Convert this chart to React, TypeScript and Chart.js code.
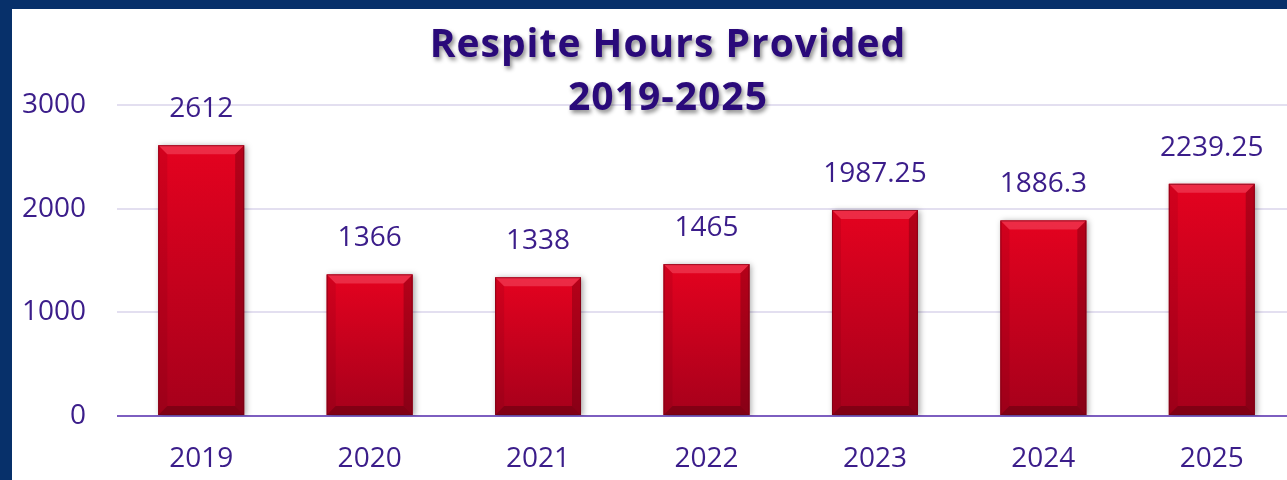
import React, { useEffect, useRef } from 'react';
import { Chart, registerables } from 'chart.js';

Chart.register(...registerables);

const categories = ['2019', '2020', '2021', '2022', '2023', '2024', '2025'];
const hours = [2612, 1366, 1338, 1465, 1987.25, 1886.3, 2239.25];
const valueLabels = ['2612', '1366', '1338', '1465', '1987.25', '1886.3', '2239.25'];
const yTickValues = [0, 1000, 2000, 3000];
const titleLines = ['Respite Hours Provided', '2019-2025'];

const TEXT = '#3b1d8a';
const TITLE = '#2a0a7a';
const FONT = '"Open Sans", "Noto Sans", sans-serif';

const barStyle = {
  id: 'barStyle',
  beforeDatasetsDraw(chart: any) {
    const ctx = chart.ctx;
    ctx.save();
    ctx.shadowColor = 'rgba(0,0,0,0.35)';
    ctx.shadowBlur = 6;
    ctx.shadowOffsetX = 2;
    ctx.shadowOffsetY = 1;
  },
  afterDatasetsDraw(chart: any) {
    const ctx = chart.ctx;
    ctx.restore();
    const meta = chart.getDatasetMeta(0);
    const b = 9;
    meta.data.forEach((el: any) => {
      const { x, y, base, width } = el.getProps(['x', 'y', 'base', 'width'], true);
      const L = x - width / 2, R = x + width / 2, T = y, B = base;
      const g = ctx.createLinearGradient(0, T, 0, B);
      g.addColorStop(0, '#e4021f');
      g.addColorStop(1, '#a6001b');
      ctx.save();
      ctx.fillStyle = g;
      ctx.fillRect(L, T, width, B - T);
      const poly = (pts: number[][], fill: string) => {
        ctx.beginPath();
        ctx.moveTo(pts[0][0], pts[0][1]);
        for (let i = 1; i < pts.length; i++) ctx.lineTo(pts[i][0], pts[i][1]);
        ctx.closePath();
        ctx.fillStyle = fill;
        ctx.fill();
      };
      poly([[L, T], [R, T], [R - b, T + b], [L + b, T + b]], 'rgba(255,120,140,0.35)');
      poly([[L, B], [R, B], [R - b, B - b], [L + b, B - b]], 'rgba(60,0,10,0.35)');
      poly([[L, T], [L + b, T + b], [L + b, B - b], [L, B]], 'rgba(90,0,15,0.12)');
      poly([[R, T], [R - b, T + b], [R - b, B - b], [R, B]], 'rgba(60,0,10,0.28)');
      ctx.strokeStyle = 'rgba(110,0,20,0.6)';
      ctx.lineWidth = 1;
      ctx.strokeRect(L + 0.5, T + 0.5, width - 1, B - T - 1);
      ctx.restore();
    });
    // value labels
    ctx.save();
    ctx.fillStyle = TEXT;
    ctx.font = `28px ${FONT}`;
    ctx.textAlign = 'center';
    ctx.textBaseline = 'alphabetic';
    meta.data.forEach((el: any, i: number) => {
      const { x, y } = el.getProps(['x', 'y'], true);
      ctx.fillText(valueLabels[i], x, y - 28);
    });
    ctx.restore();
  },
};

const titlePlugin = {
  id: 'titlePlugin',
  afterDraw(chart: any) {
    const ctx = chart.ctx;
    ctx.save();
    ctx.font = `bold 39px ${FONT}`;
    (ctx as any).letterSpacing = '1px';
    ctx.textAlign = 'center';
    ctx.textBaseline = 'alphabetic';
    ctx.shadowColor = 'rgba(0,0,0,0.45)';
    ctx.shadowBlur = 4;
    ctx.shadowOffsetX = 2;
    ctx.shadowOffsetY = 3;
    ctx.fillStyle = TITLE;
    ctx.fillText(titleLines[0], 656, 48);
    ctx.fillText(titleLines[1], 656, 101);
    ctx.restore();
  },
};

export default function App() {
  const ref = useRef<HTMLCanvasElement>(null);
  useEffect(() => {
    if (!ref.current) return;
    const chart = new Chart(ref.current, {
      type: 'bar',
      data: {
        labels: categories,
        datasets: [
          {
            data: hours,
            backgroundColor: '#c8001d',
            borderWidth: 0,
            categoryPercentage: 1,
            barPercentage: 0.51,
          },
        ],
      },
      options: {
        responsive: false,
        animation: false,
        layout: { padding: { left: 0, top: 96, right: 26, bottom: 0 } },
        plugins: { legend: { display: false }, tooltip: { enabled: false }, title: { display: false } },
        scales: {
          x: {
            grid: { display: false, drawTicks: false },
            border: { display: false },
            ticks: { color: TEXT, font: { family: FONT, size: 28 }, padding: 26 },
            afterFit: (s: any) => { s.height = 64; },
          },
          y: {
            min: 0,
            max: 3000,
            afterBuildTicks: (s: any) => { s.ticks = yTickValues.map((v) => ({ value: v })); },
            grid: {
              drawTicks: false,
              lineWidth: 2,
              color: (c: any) => (c.tick && c.tick.value === 0 ? '#7d5ec0' : '#e3dff0'),
            },
            border: { display: false },
            ticks: {
              color: TEXT,
              font: { family: FONT, size: 28 },
              padding: 31,
              callback: (v: any) => String(v),
            },
            afterFit: (s: any) => { s.width = 105; },
          },
        },
      },
      plugins: [barStyle, titlePlugin],
    });
    return () => chart.destroy();
  }, []);
  return (
    <div style={{ position: 'fixed', left: 0, top: 0, width: 1287, height: 480, background: '#07306a', overflow: 'hidden' }}>
      <div style={{ position: 'absolute', left: 12, top: 9, width: 1310, height: 471, background: '#ffffff' }}>
        <canvas ref={ref} width={1310} height={471} style={{ display: 'block' }} />
      </div>
    </div>
  );
}
